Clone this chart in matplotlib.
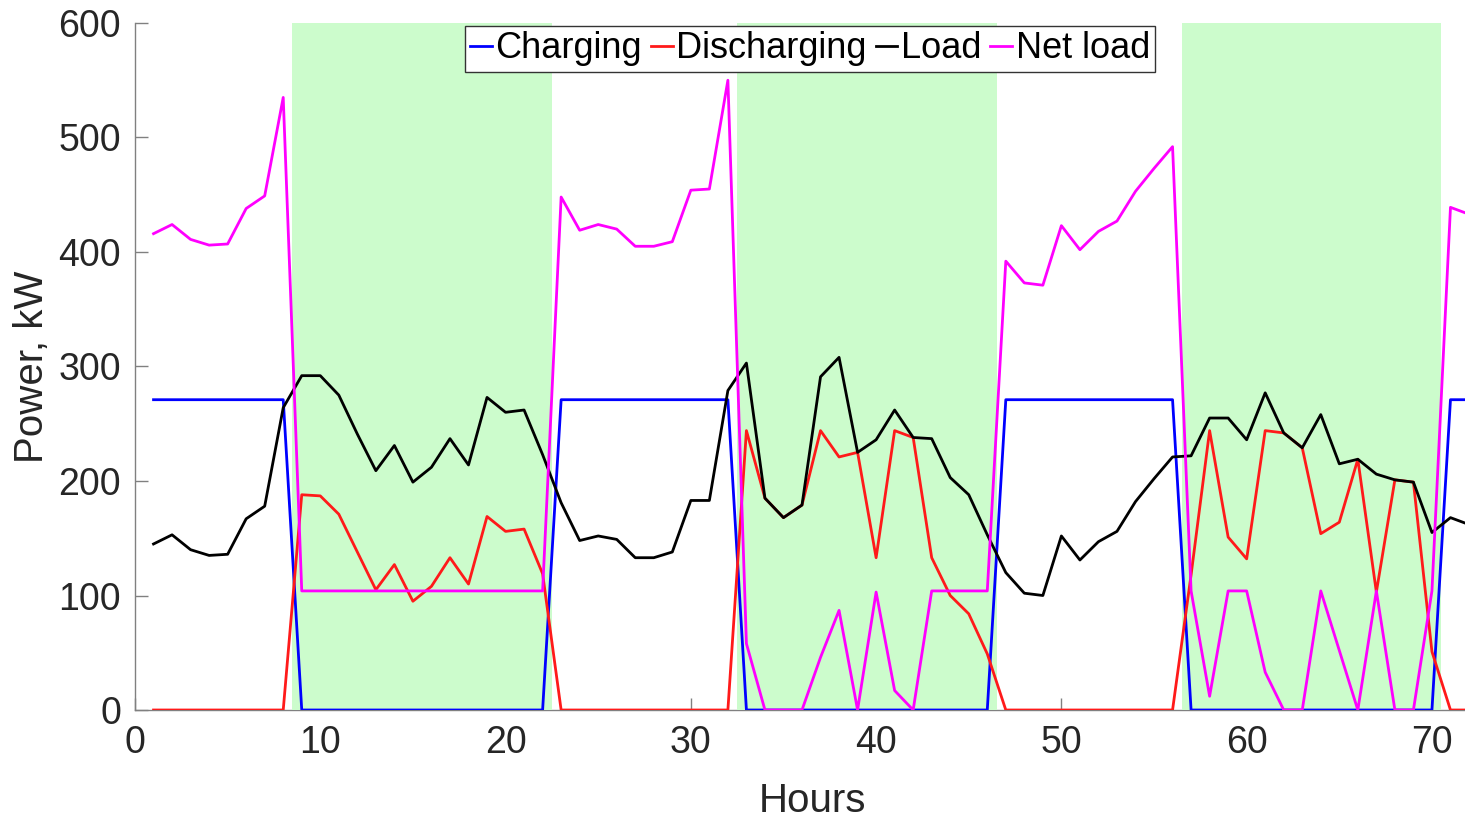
import numpy as np
import matplotlib
matplotlib.use('Agg')
import matplotlib.pyplot as plt

plt.rcParams['font.family'] = ['Liberation Sans', 'DejaVu Sans']

# hourly data, hours 1..72
hours = list(range(1, 73))
charging = [271] * 8 + [0] * 14 + [271] * 10 + [0] * 14 + [271] * 10 + [0] * 14 + [271] * 2
discharging = [0, 0, 0, 0, 0, 0, 0, 0, 188, 187, 171, 138, 105, 127, 95, 108, 133, 110, 169, 156,
               158, 119, 0, 0, 0, 0, 0, 0, 0, 0, 0, 0, 244, 185, 168, 179, 244, 221, 225, 133,
               244, 238, 133, 100, 84, 49, 0, 0, 0, 0, 0, 0, 0, 0, 0, 0, 118, 244, 151, 132,
               244, 242, 229, 154, 164, 219, 103, 201, 199, 51, 0, 0]
load = [145, 153, 140, 135, 136, 167, 178, 264, 292, 292, 275, 241, 209, 231, 199, 212, 237, 214, 273, 260,
        262, 223, 181, 148, 152, 149, 133, 133, 138, 183, 183, 279, 303, 185, 168, 179, 291, 308, 225, 236,
        262, 238, 237, 203, 188, 153, 120, 102, 100, 152, 131, 147, 156, 182, 202, 221, 222, 255, 255, 236,
        277, 242, 229, 258, 215, 219, 206, 201, 199, 155, 168, 162]
net_load = [416, 424, 411, 406, 407, 438, 449, 535, 104, 104, 104, 104, 104, 104, 104, 104, 104, 104, 104, 104,
            104, 104, 448, 419, 424, 420, 405, 405, 409, 454, 455, 550, 58, 0, 0, 0, 46, 87, 0, 103,
            17, 0, 104, 104, 104, 104, 392, 373, 371, 423, 402, 418, 427, 453, 473, 492, 104, 12, 104, 104,
            33, 0, 0, 104, 52, 0, 104, 0, 0, 104, 439, 433]
# discharge windows (shaded green)
discharge_windows = [(8.5, 22.5), (32.5, 46.5), (56.5, 70.5)]

W, H = 1465, 822
fig = plt.figure(figsize=(W / 100, H / 100), dpi=100)
ax = fig.add_axes([135 / W, 112 / H, 1334 / W, 687 / H])

for start, end in discharge_windows:
    ax.axvspan(start, end, color='#ccfccc', lw=0, zorder=1)

ax.plot(hours, charging, color='#0000ff', lw=2, label='Charging', zorder=2)
ax.plot(hours, discharging, color='#ff1a1a', lw=2, label='Discharging', zorder=2)
ax.plot(hours, load, color='black', lw=2, label='Load', zorder=2)
ax.plot(hours, net_load, color='#ff00ff', lw=2, label='Net load', zorder=2)

ax.set_xlim(0, 72)
ax.set_ylim(0, 600)
ax.set_xticks(range(0, 71, 10))
ax.set_yticks(range(0, 601, 100))

# matlab-ish look: box off, inward gray ticks, axis under the shading
ax.spines['top'].set_visible(False)
ax.spines['right'].set_visible(False)
for s in ['left', 'bottom']:
    ax.spines[s].set_color('#808080')
    ax.spines[s].set_linewidth(1.0)
    ax.spines[s].set_zorder(0.5)
ax.set_axisbelow(True)
ax.tick_params(direction='in', length=9, width=1, color='#808080', labelsize=27, labelcolor='#262626')
ax.tick_params(axis='x', pad=11)
ax.tick_params(axis='y', pad=10)

ax.set_xlabel('Hours', fontsize=29, color='#262626')
ax.xaxis.set_label_coords(0.5075, -0.105)
ax.set_ylabel('Power, kW', fontsize=29, color='#262626')
ax.yaxis.set_label_coords(-0.063, 0.5)

leg = ax.legend(loc='upper center', bbox_to_anchor=(0.506, 0.996), ncol=4, fontsize=26,
                handlelength=0.6, handletextpad=0.1, columnspacing=0.25, borderpad=0.15,
                borderaxespad=0.0, fancybox=False, framealpha=1, edgecolor='#333333')
leg.get_frame().set_linewidth(1.0)

fig.savefig('out.png', dpi=100)
